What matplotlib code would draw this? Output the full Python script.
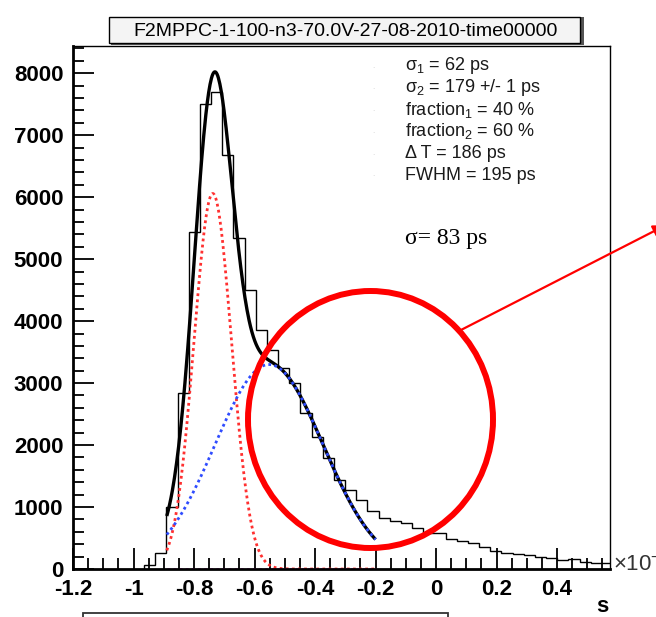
import matplotlib.pyplot as plt
import matplotlib.patches as mpatches
from matplotlib.ticker import MultipleLocator, FuncFormatter
import numpy as np

plt.rcParams['font.family'] = ['Liberation Sans', 'DejaVu Sans']
plt.rcParams['mathtext.fontset'] = 'custom'
plt.rcParams['mathtext.rm'] = 'Liberation Sans'

W, H = 656, 617

# histogram of time difference (units of 1e-9 s)
bin_lo = -0.9649
bin_w = 0.0369
counts = [60, 255, 1000, 2840, 5440, 7510, 7690, 6680, 5340, 4500, 3855,
          3540, 3240, 2995, 2510, 2130, 1785, 1435, 1274, 1120, 940, 820,
          774, 742, 660, 580, 575, 480, 457, 416, 355, 290, 262, 242, 218,
          188, 172, 140, 156, 118, 102, 100]

# double gaussian fit (values from the stats box)
mu1, sig1, amp1 = -0.738, 0.062, 6060
delta_t = 0.186
sig2, amp2 = 0.179, 3300
fit_lo, fit_hi = -0.89, -0.2

title = 'F2MPPC-1-100-n3-70.0V-27-08-2010-time00000'
stats = [r'σ$\mathregular{_1}$ = 62 ps', r'σ$\mathregular{_2}$ = 179 +/- 1 ps',
         r'fraction$\mathregular{_1}$ = 40 %', r'fraction$\mathregular{_2}$ = 60 %',
         'Δ T = 186 ps', 'FWHM = 195 ps']
note = 'σ= 83 ps'


def fx(px):
    return px / W


def fy(py):
    return 1 - py / H


fig = plt.figure(figsize=(W / 100, H / 100), dpi=100)
ax = fig.add_axes([fx(73), fy(569), (610 - 73) / W, (569 - 46) / H])

edges = bin_lo + bin_w * np.arange(len(counts) + 1)
ax.stairs(counts, edges, color='black', lw=1.0, clip_on=True)

xs = np.linspace(fit_lo, fit_hi, 300)
g1 = amp1 * np.exp(-0.5 * ((xs - mu1) / sig1) ** 2)
g2 = amp2 * np.exp(-0.5 * ((xs - (mu1 + delta_t)) / sig2) ** 2)
ax.plot(xs, g1 + g2, color='black', lw=2.4, solid_capstyle='butt')
ax.plot(xs, g1, color='#ff3030', lw=2.0, ls=(0, (1, 1.2)))
ax.plot(xs, g2, color='#2f4cff', lw=2.0, ls=(0, (1, 1.2)))
ax.plot(xs, np.zeros_like(xs), color='#ff30ff', lw=2.0, ls=(0, (1, 1.2)))

ax.set_xlim(-1.2, 0.575)
ax.set_ylim(0, 8440)
ax.xaxis.set_major_locator(MultipleLocator(0.2))
ax.xaxis.set_minor_locator(MultipleLocator(0.05))
ax.yaxis.set_major_locator(MultipleLocator(1000))
ax.yaxis.set_minor_locator(MultipleLocator(200))
ax.xaxis.set_major_formatter(FuncFormatter(lambda v, p: '%g' % round(v, 3)))
ax.tick_params(which='both', direction='in', top=False, right=False,
               width=1.3, labelsize=16)
ax.tick_params(which='major', length=15, pad=7)
ax.tick_params(which='minor', length=8)
for lab in ax.get_xticklabels() + ax.get_yticklabels():
    lab.set_fontweight('bold')
ax.spines['left'].set_linewidth(2.0)
ax.spines['bottom'].set_linewidth(2.0)
ax.spines['top'].set_linewidth(1.0)
ax.spines['right'].set_linewidth(1.0)

# stats lines
for i, s in enumerate(stats):
    y = 66 + i * 21.8
    fig.text(fx(373), fy(y), '.', color='#cccccc', fontsize=6,
             ha='center', va='center')
    fig.text(fx(405), fy(y), s, fontsize=13, color='#1a1a1a',
             ha='left', va='center')

fig.text(fx(405), fy(244), note, fontsize=17, family='Liberation Serif',
         ha='left', va='baseline')

# axis extras
fig.text(fx(602), fy(607), 's', fontsize=16, fontweight='bold',
         ha='center', va='center')
fig.text(fx(613), fy(563), r'$\times$10$^{-9}$', fontsize=16,
         ha='left', va='center', color='#333333')

# title box with shadow
fig.patches.append(mpatches.Rectangle((fx(111), fy(45)), (582 - 109) / W,
                                      (45 - 17) / H, transform=fig.transFigure,
                                      facecolor='#555555', edgecolor='none'))
fig.patches.append(mpatches.Rectangle((fx(109), fy(43)), (580 - 109) / W,
                                      (43 - 17) / H, transform=fig.transFigure,
                                      facecolor='#f4f4f4', edgecolor='black',
                                      lw=1.0))
fig.text(fx(346), fy(31), title, fontsize=14, ha='center', va='center')

# partial box at the bottom
fig.patches.append(mpatches.Rectangle((fx(83), fy(640)), (448 - 83) / W,
                                      (640 - 613) / H, transform=fig.transFigure,
                                      facecolor='white', edgecolor='#333333',
                                      lw=1.3))

# red annotation circle and arrow
fig.patches.append(mpatches.Ellipse((fx(370.5), fy(419.5)), 245 / W, 257 / H,
                                    transform=fig.transFigure, fill=False,
                                    edgecolor='red', lw=4.3))
fig.add_artist(mpatches.FancyArrowPatch((fx(459), fy(331)), (fx(668), fy(224)),
                                        transform=fig.transFigure,
                                        arrowstyle='-|>', mutation_scale=18,
                                        color='red', lw=1.6))

fig.savefig('out.png', dpi=100)
